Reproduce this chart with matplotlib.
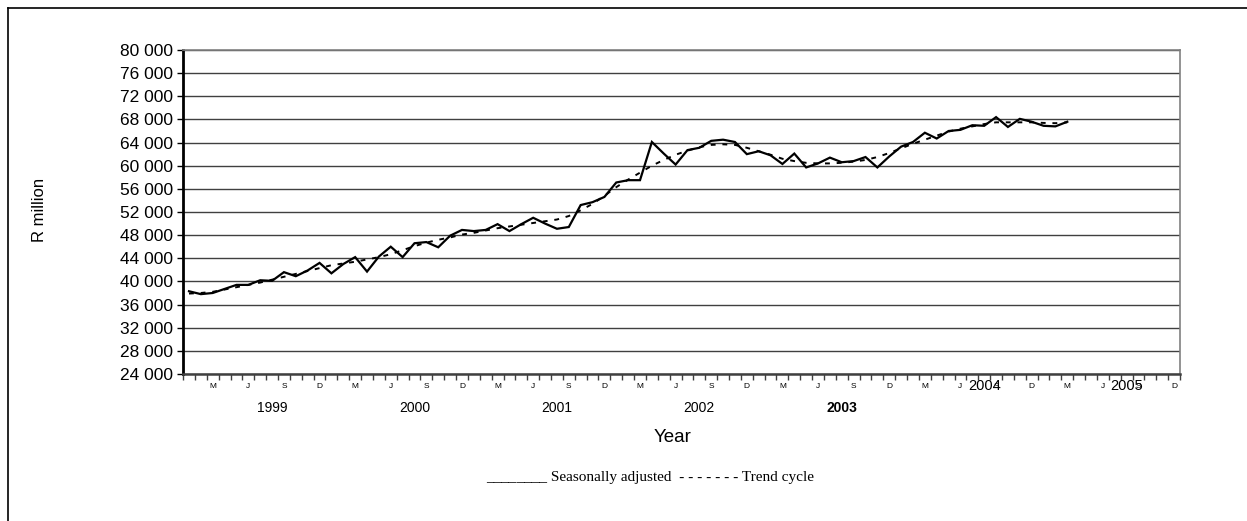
import matplotlib.pyplot as plt
from matplotlib.lines import Line2D
import matplotlib.transforms as mtransforms

# monthly values, Jan 1999 .. Mar 2005 (R million)
seasonally_adjusted = [
    38300, 37800, 38000, 38700, 39400, 39400, 40200, 40100, 41600, 40900, 41900, 43200,
    41400, 43000, 44200, 41700, 44300, 46000, 44200, 46600, 46800, 45900, 47900, 48900,
    48700, 48900, 49900, 48700, 49900, 51000, 50000, 49100, 49400, 53200, 53700, 54600,
    57100, 57500, 57500, 64100, 62100, 60200, 62700, 63100, 64300, 64500, 64100, 62000,
    62500, 61800, 60300, 62100, 59700, 60400, 61400, 60600, 60800, 61500, 59700, 61600,
    63300, 64100, 65700, 64700, 66000, 66200, 67000, 66900, 68400, 66700, 68100, 67600,
    66900, 66800, 67600,
]
trend_cycle = [
    37900, 38000, 38200, 38600, 39000, 39400, 39800, 40300, 40800, 41300, 41800, 42300,
    42800, 43100, 43400, 43800, 44200, 44700, 45400, 46100, 46700, 47200, 47600, 48100,
    48400, 48800, 49200, 49500, 49800, 50100, 50400, 50700, 51300, 52300, 53400, 54800,
    56300, 57600, 58800, 60000, 61000, 61900, 62600, 63200, 63600, 63700, 63600, 63100,
    62500, 61900, 61200, 60800, 60500, 60400, 60400, 60500, 60700, 61000, 61500, 62200,
    63000, 63800, 64500, 65200, 65900, 66400, 66800, 67200, 67500, 67500, 67500, 67500,
    67400, 67350, 67500,
]
years = ["1999", "2000", "2001", "2002", "2003", "2004", "2005"]
month_letters = ["M", "J", "S", "D"]
y_ticks = list(range(24000, 80001, 4000))

n_months = 12 * len(years)

plt.rcParams["font.family"] = ["Liberation Sans", "DejaVu Sans"]

fig = plt.figure(figsize=(12.47, 5.21), dpi=100)
ax = fig.add_axes([0.1468, 0.2822, 0.7995, 0.6218])

x = list(range(len(seasonally_adjusted)))
ax.plot(x, seasonally_adjusted, color="black", lw=1.6, solid_joinstyle="miter")
ax.plot(range(len(trend_cycle)), trend_cycle, color="black", lw=1.4,
        linestyle=(0, (2.5, 3.5)))

ax.set_xlim(-0.5, n_months - 0.5)
ax.set_ylim(24000, 80000)
ax.set_yticks(y_ticks)
ax.set_yticklabels([f"{v:,}".replace(",", " ") for v in y_ticks], fontsize=12.5)
ax.grid(axis="y", color="#404040", lw=1.0)
ax.set_axisbelow(True)

# tick marks sit between monthly categories
ax.set_xticks([i - 0.5 for i in range(n_months + 1)])
ax.set_xticklabels([])
ax.tick_params(axis="x", direction="out", length=4, width=1, color="#404040")
ax.tick_params(axis="y", direction="out", length=4, width=1)

for side in ["top", "right"]:
    ax.spines[side].set_color("#808080")
    ax.spines[side].set_linewidth(1.2)
ax.spines["left"].set_linewidth(2.0)
ax.spines["bottom"].set_linewidth(1.8)
ax.spines["bottom"].set_color("#404040")

trans = mtransforms.blended_transform_factory(ax.transData, fig.transFigure)
for k in range(len(years)):
    for j, letter in enumerate(month_letters):
        ax.text(12 * k + 2 + 3 * j, 1 - 386 / 521, letter, transform=trans,
                ha="center", va="center", fontsize=6)
    if k < 5:
        ax.text(12 * k + 7, 1 - 408 / 521, years[k], transform=trans,
                ha="center", va="center", fontsize=10,
                fontweight="bold" if years[k] == "2003" else "normal")
    else:
        ax.text(12 * k + 7, 1 - 386 / 521, years[k], transform=trans,
                ha="center", va="center", fontsize=10.5, zorder=5)

fig.text(673 / 1247, 1 - 438 / 521, "Year", ha="center", va="center", fontsize=13.5)
fig.text(40 / 1247, 1 - 210 / 521, "R million", ha="center", va="center",
         rotation=90, fontsize=12)

fig.text(650 / 1247, 1 - 477 / 521,
         "________ Seasonally adjusted  - - - - - - - Trend cycle",
         ha="center", va="center", fontsize=11,
         family=["Liberation Serif", "DejaVu Serif"])

# outer frame of the chart object
fig.add_artist(Line2D([8 / 1247, 8 / 1247], [0, 1 - 8 / 521],
                      transform=fig.transFigure, color="black", lw=1.2))
fig.add_artist(Line2D([8 / 1247, 1], [1 - 8 / 521, 1 - 8 / 521],
                      transform=fig.transFigure, color="black", lw=1.2))

fig.savefig("out.png", dpi=100)
